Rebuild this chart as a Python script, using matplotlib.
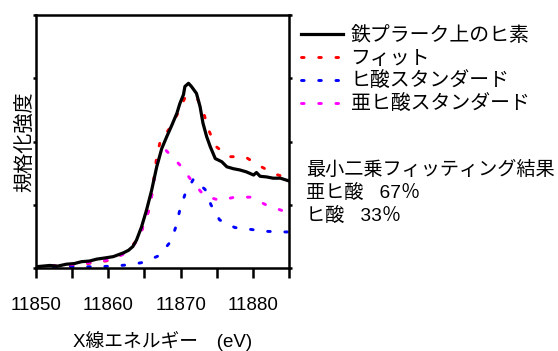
import matplotlib.pyplot as plt

plt.rcParams['font.family'] = ['Liberation Sans', 'Noto Sans CJK JP']

# 鉄プラーク上のヒ素 (measured)
e_meas = [11850, 11851.9, 11853.0, 11854.2, 11855.3, 11856.3, 11857.4, 11858.4, 11859.6,
          11860.7, 11862.1, 11862.8, 11863.4, 11863.9, 11864.6, 11865.3, 11866.0, 11866.7,
          11867.4, 11868.1, 11868.8, 11869.5, 11869.9, 11870.4, 11870.6, 11871.1, 11871.5,
          11872.2, 11872.7, 11873.1, 11873.6, 11874.1, 11874.8, 11875.7, 11876.4, 11877.3,
          11878.2, 11879.1, 11880.1, 11880.5, 11881.0, 11881.9, 11882.8, 11883.8, 11884.9]
y_meas = [0.02, 0.04, 0.03, 0.06, 0.07, 0.10, 0.11, 0.14, 0.16,
          0.18, 0.24, 0.28, 0.34, 0.44, 0.65, 0.92, 1.23, 1.60,
          1.89, 2.08, 2.26, 2.45, 2.60, 2.74, 2.87, 2.92, 2.87,
          2.76, 2.55, 2.29, 2.08, 1.92, 1.73, 1.68, 1.60, 1.57,
          1.55, 1.52, 1.47, 1.51, 1.45, 1.44, 1.42, 1.42, 1.38]

# フィット
e_fit = [11850, 11855, 11858.4, 11860.7, 11862.8, 11864.3, 11865.1, 11865.8, 11866.1,
         11866.7, 11867.2, 11868.5, 11869.6, 11870.6, 11871.5, 11872.4, 11873.3, 11873.9,
         11874.8, 11876.7, 11878.9, 11881.0, 11883.2, 11885]
y_fit = [0.02, 0.04, 0.09, 0.13, 0.29, 0.48, 0.76, 0.97, 1.23,
         1.76, 2.01, 2.21, 2.44, 2.69, 2.72, 2.66, 2.41, 2.18,
         1.93, 1.76, 1.76, 1.61, 1.48, 1.42]

# ヒ酸スタンダード
e_as5 = [11850, 11854, 11858.5, 11860.6, 11862.8, 11864.9, 11867.1, 11868.7, 11869.4,
         11869.9, 11870.6, 11871.8, 11873.4, 11874.2, 11875.4, 11877.5, 11879.7, 11881.8,
         11884, 11885]
y_as5 = [0.02, 0.02, 0.02, 0.03, 0.05, 0.09, 0.20, 0.43, 0.67,
         0.92, 1.16, 1.41, 1.24, 1.00, 0.76, 0.64, 0.61, 0.58,
         0.57, 0.57]

# 亜ヒ酸スタンダード
e_as3 = [11850, 11854, 11858.4, 11860.7, 11862.8, 11864.3, 11865.1, 11865.8, 11866.1,
         11866.5, 11866.9, 11867.9, 11869.9, 11871.6, 11873.3, 11875.4, 11877.5, 11879.7,
         11881.8, 11884, 11885]
y_as3 = [0.02, 0.04, 0.10, 0.14, 0.26, 0.48, 0.76, 0.97, 1.23,
         1.49, 1.72, 1.87, 1.63, 1.37, 1.14, 1.07, 1.12, 1.12,
         1.00, 0.91, 0.88]

labels = ['鉄プラーク上のヒ素', 'フィット', 'ヒ酸スタンダード', '亜ヒ酸スタンダード']
result_lines = ['最小二乗フィッティング結果', '亜ヒ酸   67％', 'ヒ酸   33％']

fig = plt.figure(figsize=(5.58, 3.51), dpi=100)
ax = fig.add_axes([36 / 558, 1 - 268 / 351, 253 / 558, 253 / 351])

# dotted style, big round dots like the original
dot = (0, (0.9, 5))
ax.plot(e_meas, y_meas, color='black', lw=2.3, label=labels[0], zorder=3)
ax.plot(e_fit, y_fit, color='red', lw=2.1, ls=dot, dash_capstyle='round', label=labels[1])
ax.plot(e_as5, y_as5, color='blue', lw=2.1, ls=dot, dash_capstyle='round', label=labels[2])
ax.plot(e_as3, y_as3, color='magenta', lw=2.1, ls=dot, dash_capstyle='round', label=labels[3])

ax.set_xlim(11850, 11885)
ax.set_ylim(0, 4)
ax.set_xticks([11850, 11860, 11870, 11880])
ax.set_xticks([11855, 11865, 11875, 11885], minor=True)
ax.set_yticks([0, 1, 2, 3, 4])
ax.set_yticklabels([])
ax.tick_params(axis='x', which='both', direction='out', length=7, width=1.8,
               labelsize=13.5, pad=14)
ax.tick_params(axis='y', direction='out', length=2, width=1.8, left=True, right=True)
for s in ax.spines.values():
    s.set_linewidth(1.8)

ax.set_xlabel('X線エネルギー　(eV)', fontsize=13.5, labelpad=12)
ax.set_ylabel('規格化強度', fontsize=14.5, labelpad=-4)

ax.legend(loc='upper left', bbox_to_anchor=(291 / 558, 1 - 16 / 351),
          bbox_transform=fig.transFigure, frameon=False, fontsize=14.3,
          handlelength=2.1, handletextpad=0.4, labelspacing=0.2, borderpad=0)

for i, t in enumerate(result_lines):
    fig.text(306 / 558, 1 - (170 + 23 * i) / 351, t, fontsize=13.8, va='center', ha='left')

fig.savefig('out.png', dpi=100)
